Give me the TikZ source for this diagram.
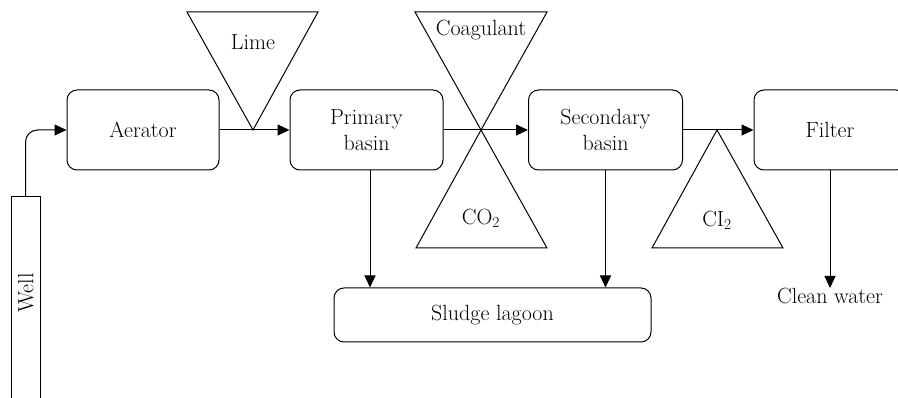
\documentclass[tikz,border=0pt]{standalone}
\usetikzlibrary{arrows.meta,calc}
\begin{document}
\begin{tikzpicture}[x=1pt,y=-1pt,line width=1pt,
  font=\fontsize{22}{26}\selectfont,
  unit/.style={draw,rounded corners=10pt,minimum height=80pt,align=center,inner sep=0pt},
  flow/.style={-{Triangle[length=12pt,width=11pt]}},
  dose/.style={line join=miter},
  txt/.style={inner sep=0pt,align=center}]
\useasboundingbox (0,0) rectangle (898,398);
\clip (0,0) rectangle (898,398);

% process units
\node[unit,minimum width=152pt] (aerator)   at (143,130)   {Aerator};
\node[unit,minimum width=153pt] (primary)   at (366.5,130) {Primary\\basin};
\node[unit,minimum width=154pt] (secondary) at (605.5,130) {Secondary\\basin};
\node[unit,minimum width=152pt] (filter)    at (830,130)   {Filter};
\node[unit,minimum width=317pt,minimum height=54pt] (lagoon) at (492.5,315) {Sludge lagoon};
\node[txt,anchor=north] (clean) at (830,288) {Clean water};

% well shaft, open at the bottom
\node[draw,minimum width=29pt,minimum height=230pt,inner sep=0pt] (well) at (25.5,312) {};
\node[txt,rotate=90] (welllabel) at (26,293) {Well};

% chemical dosing hoppers
\draw[dose] (187,12) -- (318,12) -- (253,130) -- cycle;
\node[txt] (lime) at (253,42) {Lime};
\draw[dose] (415,12) -- (547,12) -- (481,130) -- cycle;
\node[txt] (coag) at (481,30) {Coagulant};
\draw[dose] (481,130) -- (547,248) -- (416,248) -- cycle;
\node[txt] (co2) at (481,218) {CO\textsubscript{2}};
\draw[dose] (717,130) -- (783,248) -- (652,248) -- cycle;
\node[txt] (cl2) at (717,220) {CI\textsubscript{2}};

% water flow
\draw[flow,rounded corners=12pt] (well.north) |- (aerator.west);
\draw[flow] (aerator.east) -- (primary.west);
\draw[flow] (primary.east) -- (secondary.west);
\draw[flow] (secondary.east) -- (filter.west);
\draw[flow] (filter.south) -- (clean.north);

% sludge removal
\draw[flow] ($(primary.south)+(3.5,0)$) -- ($(primary.south |- lagoon.north)+(3.5,0)$);
\draw[flow] (secondary.south) -- (secondary.south |- lagoon.north);
\end{tikzpicture}
\end{document}
